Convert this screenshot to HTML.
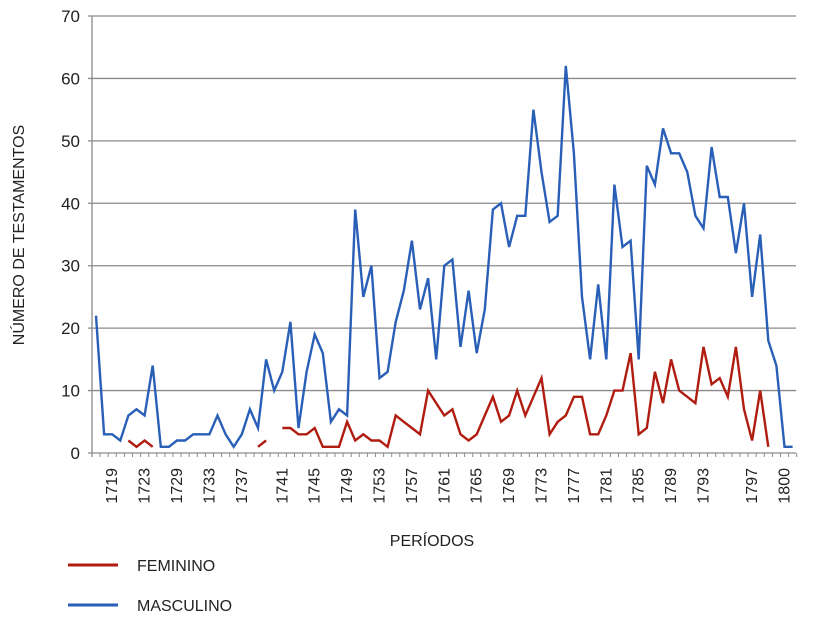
<!DOCTYPE html>
<html><head><meta charset="utf-8"><style>
body{margin:0;background:#fff;}
svg{display:block;font-family:"Liberation Sans",Arial,sans-serif;}
</style></head><body>
<svg id="chart" width="818" height="624" viewBox="0 0 818 624"></svg>
<script>
const masculino=[22,3,3,2,6,7,6,14,1,1,2,2,3,3,3,6,3,1,3,7,4,15,10,13,21,4,13,19,16,5,7,6,39,25,30,12,13,21,26,34,23,28,15,30,31,17,26,16,23,39,40,33,38,38,55,45,37,38,62,48,25,15,27,15,43,33,34,15,46,43,52,48,48,45,38,36,49,41,41,32,40,25,35,18,14,1,1];
const feminino=[null,null,null,null,2,1,2,1,null,null,null,null,null,null,null,null,null,null,null,null,1,2,null,4,4,3,3,4,1,1,1,5,2,3,2,2,1,6,5,4,3,10,8,6,7,3,2,3,6,9,5,6,10,6,9,12,3,5,6,9,9,3,3,6,10,10,16,3,4,13,8,15,10,9,8,17,11,12,9,17,7,2,10,1,null,null,null];
const tickLabels=["1719","1723","1729","1733","1737","1741","1745","1749","1753","1757","1761","1765","1769","1773","1777","1781","1785","1789","1793","1797","1800"];
const tickIndex=[2,6,10,14,18,23,27,31,35,39,43,47,51,55,59,63,67,71,75,81,85];
const yTicks=[0,10,20,30,40,50,60,70];

const svg=document.getElementById('chart');
const NS='http://www.w3.org/2000/svg';
const X0=96,DX=8.1,Y0=453,YTOP=16,YMAX=70,PL=92,PR=796;
const xs=i=>X0+i*DX;
const ys=v=>Y0-(v/YMAX)*(Y0-YTOP);
function mk(tag,attrs,parent){const e=document.createElementNS(NS,tag);for(const k in attrs)e.setAttribute(k,attrs[k]);(parent||svg).appendChild(e);return e;}

const grid=mk('g',{});


yTicks.forEach(v=>{
  const l=mk('line',{x1:PL-4,x2:PR,y1:ys(v),y2:ys(v),stroke:'#8a8a8a','stroke-width':1.3},grid);
  
  
  const t=mk('text',{x:80,y:ys(v)+6,'text-anchor':'end','font-size':17,fill:'#222'});
  t.textContent=v;
  
  
});
const ax=mk('line',{x1:PL,x2:PL,y1:YTOP,y2:Y0+4,stroke:'#8a8a8a','stroke-width':1.3});


for(let i=0;i<=masculino.length;i++){
  const tk=mk('line',{x1:X0-4+i*DX,x2:X0-4+i*DX,y1:Y0,y2:Y0+4,stroke:'#8a8a8a','stroke-width':1});
  
  
}
tickLabels.forEach((lab,k)=>{
  const x=xs(tickIndex[k])+5;
  const t=mk('text',{x:0,y:0,transform:`translate(${x},468) rotate(-90)`,'text-anchor':'end','font-size':16,fill:'#222'});
  t.textContent=lab;
  
  
});
function drawSeries(data,color,name){
  let d='',pen=false;
  data.forEach((v,i)=>{
    if(v==null){pen=false;return;}
    d+=(pen?'L':'M')+xs(i).toFixed(1)+' '+ys(v).toFixed(1)+' ';pen=true;
  });
  const p=mk('path',{d:d,fill:'none',stroke:color,'stroke-width':2.4,'stroke-linejoin':'miter'});
  
  
}
drawSeries(masculino,'#2a5fb8','series-masculino');
drawSeries(feminino,'#b01c10','series-feminino');

const yt=mk('text',{x:0,y:0,transform:'translate(24,235) rotate(-90)','text-anchor':'middle','font-size':16,fill:'#222'});
yt.textContent='NÚMERO DE TESTAMENTOS';


const xt=mk('text',{x:432,y:546,'text-anchor':'middle','font-size':16,fill:'#222'});
xt.textContent='PERÍODOS';



const l1=mk('line',{x1:68,x2:118,y1:565,y2:565,stroke:'#b01c10','stroke-width':3});


const t1=mk('text',{x:137,y:571,'font-size':16,fill:'#222'});
t1.textContent='FEMININO';


const l2=mk('line',{x1:68,x2:118,y1:605,y2:605,stroke:'#2a5fb8','stroke-width':3});


const t2=mk('text',{x:137,y:611,'font-size':16,fill:'#222'});
t2.textContent='MASCULINO';


</script>
</body></html>
